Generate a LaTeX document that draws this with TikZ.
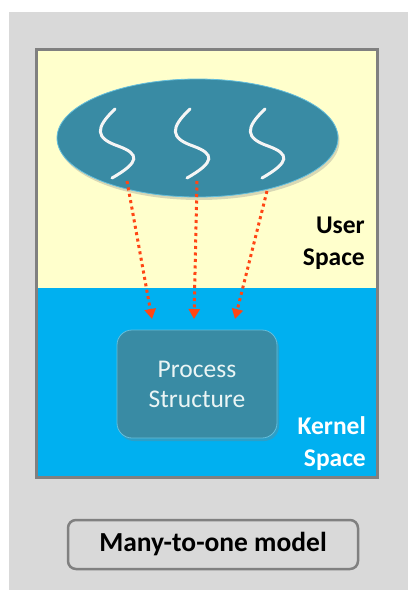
\documentclass[tikz,border=0pt]{standalone}
\usepackage{fontspec}
\setmainfont{Carlito}
\usetikzlibrary{arrows.meta,shadows,shapes.geometric}
\definecolor{bggray}{RGB}{217,217,217}
\definecolor{useryellow}{RGB}{255,255,204}
\definecolor{kernelblue}{RGB}{0,176,240}
\definecolor{frameGray}{RGB}{128,128,128}
\definecolor{tealfill}{RGB}{57,139,164}
\definecolor{tealrim}{RGB}{100,190,220}
\definecolor{arrowred}{RGB}{255,70,20}
\definecolor{textwhite}{RGB}{235,245,245}
\tikzset{
  squiggle/.style={draw=white!92!gray, line width=3pt, line cap=round},
  maparrow/.style={draw=arrowred, line width=3pt, dash pattern=on 3pt off 3.5pt,
    -{Triangle[length=10pt,width=11pt,fill=arrowred]}},
  spacelabel/.style={font=\fontsize{25.5}{32.5}\selectfont\bfseries, align=right, anchor=north east, inner sep=0pt},
  procbox/.style={rounded corners=15pt, fill=tealfill, draw=tealrim, line width=0.8pt,
    minimum width=160pt, minimum height=108pt, align=center, text=textwhite,
    font=\fontsize{25.5}{30}\selectfont, drop shadow={opacity=0.35, shadow xshift=2pt, shadow yshift=-3pt}},
  captionbox/.style={rounded corners=8pt, fill=bggray, draw=frameGray, line width=2.5pt,
    minimum width=290pt, minimum height=49pt, font=\fontsize{27.5}{30}\selectfont\bfseries}
}
\begin{document}
\begin{tikzpicture}[x=1pt,y=-1pt]
\useasboundingbox (0,0) rectangle (408,590);
% background
\fill[bggray] (9,12) rectangle (408,590);
% user / kernel regions
\fill[useryellow] (36,49) rectangle (378,288);
\fill[kernelblue] (36,288) rectangle (378,478);
\draw[frameGray, line width=3pt] (36.5,49.5) rectangle (377.5,477.5);
% thread container ellipse
\node[ellipse, fill=tealfill, draw=tealrim, line width=0.8pt, minimum width=281pt, minimum height=118pt,
  drop shadow={opacity=0.3, shadow xshift=1.5pt, shadow yshift=-3pt}] (proc) at (197.5,138) {};
% squiggles (threads)
\foreach \dx in {0,75,150}{
  \begin{scope}[xshift=\dx pt]
  \draw[squiggle] (115,109) .. controls (95,128) and (95,138) .. (118,146)
                 .. controls (140,154) and (140,162) .. (112,178);
  \end{scope}
}
% arrow end points
\coordinate (s1) at (127,181);
\coordinate (s2) at (197,181);
\coordinate (s3) at (267,191);
% process structure
\node[procbox] (ps) at (197,384) {Process\\Structure};
\coordinate (t1) at (152,319);
\coordinate (t2) at (194,319);
\coordinate (t3) at (235,319);
\draw[maparrow] (s1) -- (t1);
\draw[maparrow] (s2) -- (t2);
\draw[maparrow] (s3) -- (t3);
% labels
\node[spacelabel, text=black] (user) at (365,216.5) {User\\Space};
\node[spacelabel, text=white] (kernel) at (366,416) {Kernel\\Space};
% caption
\node[captionbox] (cap) at (213,544.5) {Many-to-one model};
\end{tikzpicture}
\end{document}
